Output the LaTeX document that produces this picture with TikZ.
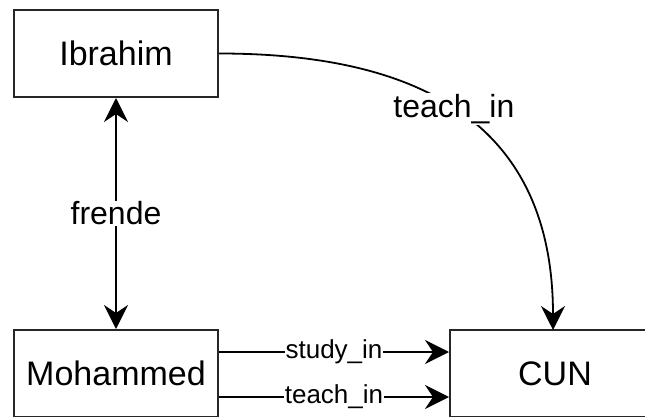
\documentclass[tikz,border=0pt]{standalone}
\usepackage{fontspec}
\setmainfont{Liberation Sans}
\usetikzlibrary{arrows.meta}
\begin{document}
\begin{tikzpicture}[x=1pt,y=-1pt,
  tip/.tip={Stealth[length=24pt,width=24pt,inset=8pt]},
  ent/.style={draw=black!85, line width=2pt, minimum height=87pt, inner sep=0pt, font=\fontsize{34}{36}\selectfont},
  conn/.style={draw=black, line width=1.8pt, -tip},
  lab/.style={fill=white, inner sep=1pt, font=\fontsize{32}{34}\selectfont},
  slab/.style={fill=white, inner sep=0.5pt, font=\fontsize{26}{28}\selectfont}]
\useasboundingbox (0,0) rectangle (645,417);
\node[ent, minimum width=204pt] (ib) at (116,53.5) {Ibrahim};
\node[ent, minimum width=204pt] (mo) at (116,373.5) {Mohammed};
\node[ent, minimum width=210pt] (cun) at (555,373.5) {CUN};
\coordinate (cuntop) at (553,330);
\draw[conn, tip-tip] (ib.south) -- node[lab] {frende} (mo.north);
\draw[conn] (ib.east) .. controls (400,53.5) and (553,110) .. node[lab, pos=0.5] {teach\_in} (cuntop);
\draw[conn] (mo.east |- 0,352) -- node[slab] {study\_in} (cun.west |- 0,352);
\draw[conn] (mo.east |- 0,397) -- node[slab] {teach\_in} (cun.west |- 0,397);
\end{tikzpicture}
\end{document}
